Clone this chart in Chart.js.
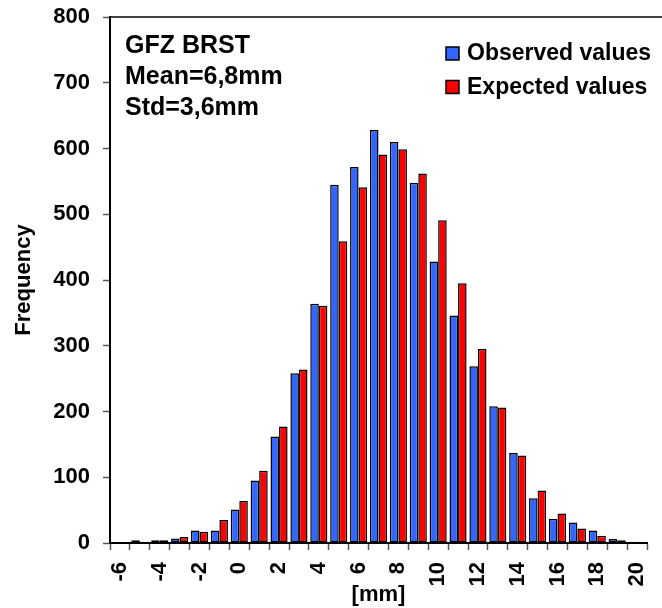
<!DOCTYPE html>
<html>
<head>
<meta charset="utf-8">
<script src="https://cdn.jsdelivr.net/npm/chart.js@4/dist/chart.umd.min.js"></script>
<style>
  html, body { margin: 0; padding: 0; background: #fff; }
  #wrap { width: 662px; height: 608px; }
</style>
</head>
<body>
<div id="wrap"><canvas id="chart" width="662" height="608"></canvas></div>
<script>
  // histogram bins in mm
  const bins = ["-6", "-5", "-4", "-3", "-2", "-1", "0", "1", "2", "3", "4", "5", "6", "7",
    "8", "9", "10", "11", "12", "13", "14", "15", "16", "17", "18", "19", "20"];
  const observed = [0, 4, 4, 7, 19, 19, 51, 95, 162, 258, 364, 545, 572, 628,
    610, 548, 428, 346, 269, 208, 137, 68, 37, 31, 19, 6, 2];
  const expected = [0, 2, 4, 9, 17, 35, 64, 110, 177, 264, 361, 459, 541, 591,
    599, 562, 491, 395, 295, 206, 133, 80, 45, 22, 11, 4, 2];
  const infoLines = ["GFZ BRST", "Mean=6,8mm", "Std=3,6mm"];

  const FONT = "'Liberation Sans', Arial, sans-serif";
  const blue = "#3366ff";
  const red = "#ff0000";

  const overlay = {
    id: "overlay",
    afterDraw(chart) {
      const ctx = chart.ctx;
      const area = chart.chartArea;
      ctx.save();
      // top frame line
      ctx.strokeStyle = "#000";
      ctx.lineWidth = 1.5;
      ctx.beginPath();
      ctx.moveTo(area.left, area.top);
      ctx.lineTo(chart.width, area.top);
      ctx.stroke();

      // info text
      ctx.fillStyle = "#000";
      ctx.font = "bold 25px " + FONT;
      ctx.textBaseline = "alphabetic";
      ctx.textAlign = "left";
      infoLines.forEach((t, i) => ctx.fillText(t, 125, 53 + i * 31));

      // legend
      ctx.font = "bold 23px " + FONT;
      chart.data.datasets.forEach((ds, i) => {
        const y = 47 + i * 33.5;
        ctx.fillStyle = ds.backgroundColor;
        ctx.fillRect(446, y, 13, 13);
        ctx.strokeStyle = "#000";
        ctx.lineWidth = 1.5;
        ctx.strokeRect(446, y, 13, 13);
        ctx.fillStyle = "#000";
        ctx.fillText(ds.label, 467, y + 13);
      });
      ctx.restore();
    },
  };

  new Chart(document.getElementById("chart").getContext("2d"), {
    type: "bar",
    data: {
      labels: bins,
      datasets: [
        { label: "Observed values", data: observed, backgroundColor: blue },
        { label: "Expected values", data: expected, backgroundColor: red },
      ],
    },
    options: {
      responsive: false,
      devicePixelRatio: 1,
      animation: false,
      layout: { padding: { top: 17, right: 15, bottom: 0, left: 0 } },
      datasets: {
        bar: {
          borderColor: "#000",
          borderWidth: 1.5,
          borderSkipped: false,
          barPercentage: 1,
          categoryPercentage: 0.86,
        },
      },
      plugins: { legend: { display: false }, tooltip: { enabled: false } },
      scales: {
        x: {
          grid: { drawOnChartArea: false, tickLength: 7, tickColor: "#555", tickWidth: 1.5, offset: true },
          border: { color: "#000", width: 2 },
          ticks: {
            color: "#000",
            font: { family: FONT, size: 22, weight: "bold" },
            autoSkip: false,
            minRotation: 90,
            maxRotation: 90,
            padding: 12,
            callback: (v, i) => (i % 2 === 0 ? bins[i] : ""),
          },
          title: {
            display: true,
            text: "[mm]",
            color: "#000",
            font: { family: FONT, size: 22, weight: "bold" },
            padding: { top: 0, bottom: 0 },
          },
          afterFit: (s) => {
            s.height = 65;
            s.paddingLeft = 0;
            s.paddingRight = 0;
          },
        },
        y: {
          min: 0,
          max: 800,
          grid: { drawOnChartArea: false, tickLength: 7, tickColor: "#555", tickWidth: 1.5 },
          border: { color: "#000", width: 2 },
          ticks: {
            stepSize: 100,
            color: "#000",
            font: { family: FONT, size: 22, weight: "bold" },
            padding: 13,
          },
          title: {
            display: true,
            text: "Frequency",
            color: "#000",
            font: { family: FONT, size: 22, weight: "bold" },
            padding: { top: 11, bottom: 0 },
          },
          afterFit: (s) => {
            s.width = 110;
            s.paddingTop = 0;
            s.paddingBottom = 0;
          },
        },
      },
    },
    plugins: [overlay],
  });
</script>
</body>
</html>
